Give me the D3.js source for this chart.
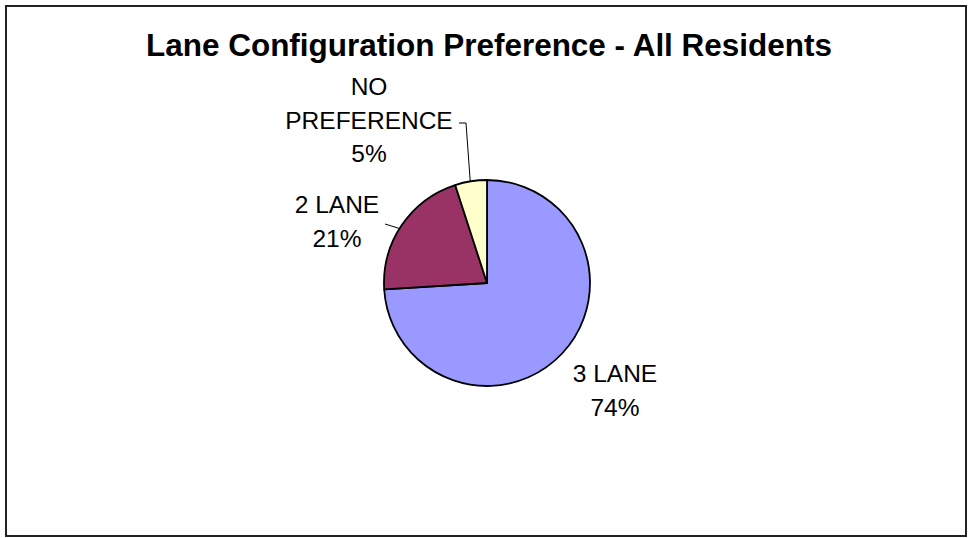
<!DOCTYPE html>
<html><head><meta charset="utf-8">
<script src="https://cdn.jsdelivr.net/npm/d3@7"></script>
<style>html,body{margin:0;padding:0;background:#fff;}svg{display:block;}</style>
</head><body>
<svg id="c" width="969" height="538"></svg>
<script>
const title = "Lane Configuration Preference - All Residents";
const categories = ["3 LANE", "2 LANE", "NO PREFERENCE"];
const values = [74, 21, 5];
const labelLines = [["3 LANE", "74%"], ["2 LANE", "21%"], ["NO", "PREFERENCE", "5%"]];
const colors = ["#9999FF", "#993366", "#FFFFCC"];

const svg = d3.select("#c");
svg.append("rect").attr("x", 6).attr("y", 6).attr("width", 960).attr("height", 530)
  .attr("fill", "#fff").attr("stroke", "#222").attr("stroke-width", 2);

svg.append("text").attr("x", 489).attr("y", 56).attr("text-anchor", "middle")
  .attr("font-family", "Liberation Sans, Arial, sans-serif").attr("font-weight", "bold")
  .attr("font-size", 32).attr("textLength", 686).attr("lengthAdjust", "spacingAndGlyphs")
  .text(title);

const cx = 487, cy = 283, R = 103;
const pie = d3.pie().sort(null).value(d => d)(values);
const arc = d3.arc().innerRadius(0).outerRadius(R);
const g = svg.append("g").attr("transform", `translate(${cx},${cy})`);
g.selectAll("path").data(pie).join("path")
  .attr("d", arc).attr("fill", (d, i) => colors[i])
  .attr("stroke", "#000").attr("stroke-width", 1.8).attr("stroke-linejoin", "round");

// label layout (center x, first baseline y)
const labelPos = [[615, 382], [337, 213], [369, 95]];
const lineH = 33.5;
labelLines.forEach((lines, i) => {
  const t = svg.append("text").attr("text-anchor", "middle")
    .attr("font-family", "Liberation Sans, Arial, sans-serif").attr("font-size", 24.5).attr("fill", "#000");
  lines.forEach((s, k) => {
    t.append("tspan").attr("x", labelPos[i][0]).attr("y", labelPos[i][1] + k * lineH).text(s);
  });
});

// leader lines: end points on pie edge computed from arc angles
function edge(d, frac) {
  const a = d.startAngle + (d.endAngle - d.startAngle) * frac;
  return [cx + R * Math.sin(a), cy - R * Math.cos(a)];
}
const e2 = edge(pie[1], 0.47);
svg.append("path").attr("d", d3.line()([[385, 224], e2]))
  .attr("fill", "none").attr("stroke", "#000").attr("stroke-width", 1);
const e3 = edge(pie[2], 0.48);
svg.append("path").attr("d", d3.line()([[459, 123], [466, 123], e3]))
  .attr("fill", "none").attr("stroke", "#000").attr("stroke-width", 1);
</script>
</body></html>
